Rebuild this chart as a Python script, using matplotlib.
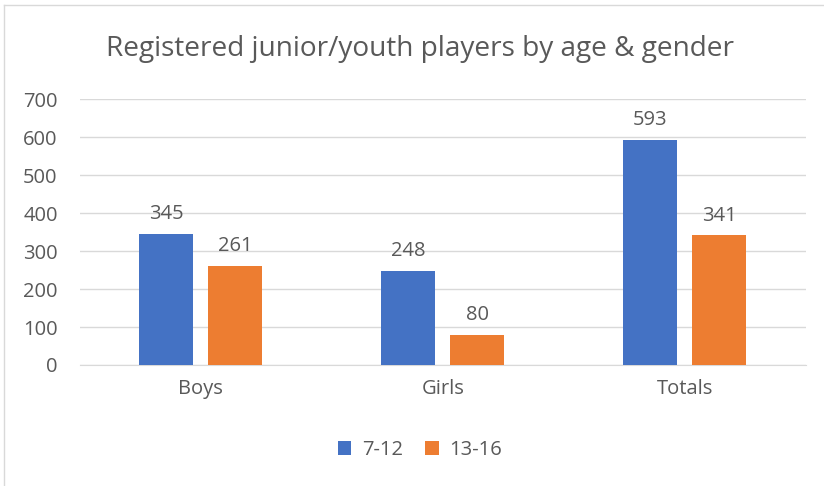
import matplotlib
matplotlib.use("Agg")
import matplotlib.pyplot as plt
import numpy as np

categories = ["Boys", "Girls", "Totals"]
series_names = ["7-12", "13-16"]
values_7_12 = [345, 248, 593]
values_13_16 = [261, 80, 341]
colors = ["#4472C4", "#ED7D31"]
yticks = [0, 100, 200, 300, 400, 500, 600, 700]

plt.rcParams['font.family'] = ['Open Sans', 'DejaVu Sans']
txt = "#595959"
fs = 14.5

fig = plt.figure(figsize=(8.24, 4.86), dpi=100)
ax = fig.add_axes([0.097, 0.249, 0.881, 0.547])

x = np.arange(len(categories))
w = 0.223
off = 0.1426
b1 = ax.bar(x - off, values_7_12, w, color=colors[0], label=series_names[0], zorder=3)
b2 = ax.bar(x + off, values_13_16, w, color=colors[1], label=series_names[1], zorder=3)
for bars in (b1, b2):
    ax.bar_label(bars, padding=7, fontsize=fs, color=txt)

ax.set_xlim(-0.5, 2.5)
ax.set_ylim(0, 700)
ax.set_yticks(yticks)
ax.set_xticks(x)
ax.set_xticklabels(categories)
ax.tick_params(axis='both', length=0, labelsize=fs, labelcolor=txt)
ax.tick_params(axis='y', pad=16)
ax.tick_params(axis='x', pad=10)
ax.grid(axis='y', color='#D9D9D9', linewidth=1, zorder=0)
for s in ['top', 'right', 'left']:
    ax.spines[s].set_visible(False)
ax.spines['bottom'].set_color('#D9D9D9')

fig.text(0.51, 0.90, "Registered junior/youth players by age & gender",
         ha='center', va='center', fontsize=20.2, color=txt)

leg = fig.legend(handles=[b1, b2], loc='center', bbox_to_anchor=(0.51, 0.074), ncol=2,
                 frameon=False, fontsize=fs, handlelength=0.65, handleheight=0.65,
                 handletextpad=0.55, columnspacing=1.1)
for t in leg.get_texts():
    t.set_color(txt)

# outer chart border (left and top visible)
fig.add_artist(plt.Line2D([3.5/824, 3.5/824], [0, 1 - 5/486], transform=fig.transFigure,
                          color='#D9D9D9', linewidth=1))
fig.add_artist(plt.Line2D([3.5/824, 1], [1 - 5/486, 1 - 5/486], transform=fig.transFigure,
                          color='#D9D9D9', linewidth=1))

fig.savefig("out.png", dpi=100)
